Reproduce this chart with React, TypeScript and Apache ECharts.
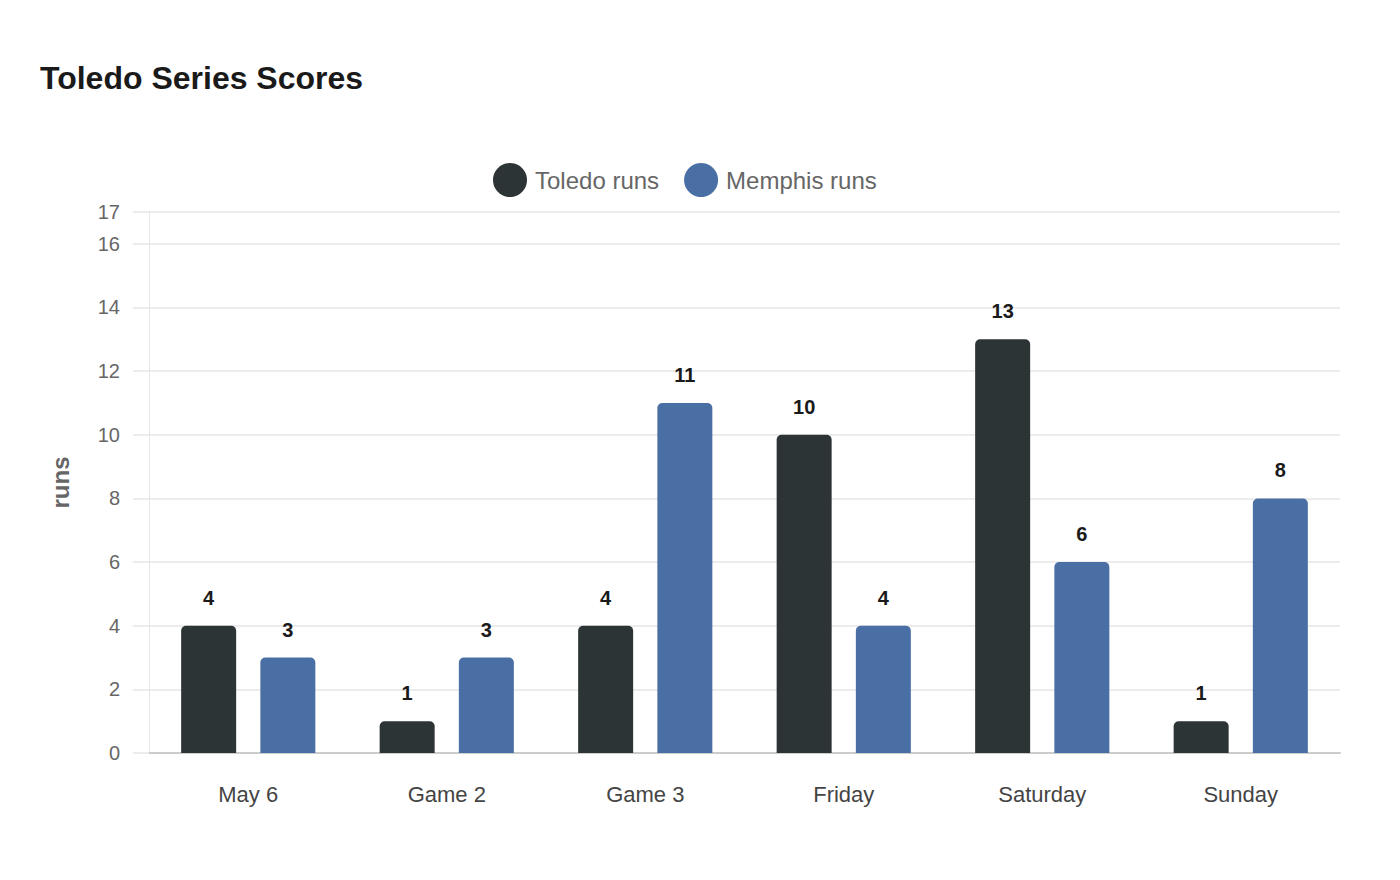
import React, { useEffect, useRef } from 'react';
import * as echarts from 'echarts';

const categories = ['May 6', 'Game 2', 'Game 3', 'Friday', 'Saturday', 'Sunday'];
const toledoRuns = [4, 1, 4, 10, 13, 1];
const memphisRuns = [3, 3, 11, 4, 6, 8];
const seriesNames = ['Toledo runs', 'Memphis runs'];
const seriesColors = ['#2d3436', '#4a6fa5'];

const FONT = '"Liberation Sans", Arial, Helvetica, sans-serif';

const App: React.FC = () => {
	const chartRef = useRef<HTMLDivElement>(null);

	useEffect(() => {
		if (!chartRef.current) return;
		const chart = echarts.init(chartRef.current, undefined, { renderer: 'svg' });

		const makeSeries = (name: string, data: number[], color: string) => ({
			name,
			type: 'bar',
			data,
			barWidth: 55,
			barGap: '44%',
			itemStyle: {
				color,
				borderRadius: [5, 5, 0, 0]
			},
			label: {
				show: true,
				position: 'top',
				distance: 18,
				color: '#1a1a1a',
				fontSize: 20,
				fontWeight: 'bold',
				fontFamily: FONT
			}
		});

		const option: echarts.EChartsOption = {
			animation: false,
			backgroundColor: '#ffffff',
			textStyle: { fontFamily: FONT },
			title: {
				text: 'Toledo Series Scores',
				left: 40,
				top: 62,
				padding: 0,
				textStyle: {
					color: '#1a1a1a',
					fontSize: 32,
					fontWeight: 'bold',
					fontFamily: FONT
				}
			},
			legend: {
				data: seriesNames,
				top: 158,
				left: 488,
				icon: 'circle',
				itemWidth: 34,
				itemHeight: 34,
				itemGap: 25,
				textStyle: {
					color: '#666',
					fontSize: 24,
					padding: [0, 0, 0, 3],
					fontFamily: FONT
				}
			},
			grid: {
				left: 149,
				right: 60,
				top: 212,
				bottom: 127
			},
			xAxis: {
				type: 'category',
				data: categories,
				axisLine: { lineStyle: { color: '#cccccc', width: 2 } },
				axisTick: { show: false },
				axisLabel: {
					color: '#444',
					fontSize: 22,
					margin: 30,
					fontFamily: FONT
				}
			},
			yAxis: {
				type: 'value',
				min: 0,
				max: 17,
				interval: 2,
				name: 'runs',
				nameLocation: 'middle',
				nameGap: 77,
				nameTextStyle: {
					color: '#666',
					fontSize: 24,
					fontWeight: 'bold',
					fontFamily: FONT
				},
				axisLine: { show: true, lineStyle: { color: '#e6e6e6', width: 1 } },
				axisTick: { show: true, length: 16, lineStyle: { color: '#ececec', width: 2 } },
				axisLabel: {
					color: '#666',
					fontSize: 20,
					margin: 29,
					fontFamily: FONT
				},
				splitLine: { lineStyle: { color: '#ececec', width: 2 } }
			},
			series: [
				makeSeries(seriesNames[0], toledoRuns, seriesColors[0]),
				makeSeries(seriesNames[1], memphisRuns, seriesColors[1])
			] as any
		};

		chart.setOption(option);

		return () => {
			chart.dispose();
		};
	}, []);

	return (
		<div
			ref={chartRef}
			style={{ position: 'fixed', left: 0, top: 0, width: '1400px', height: '880px' }}
		/>
	);
};

export default App;
